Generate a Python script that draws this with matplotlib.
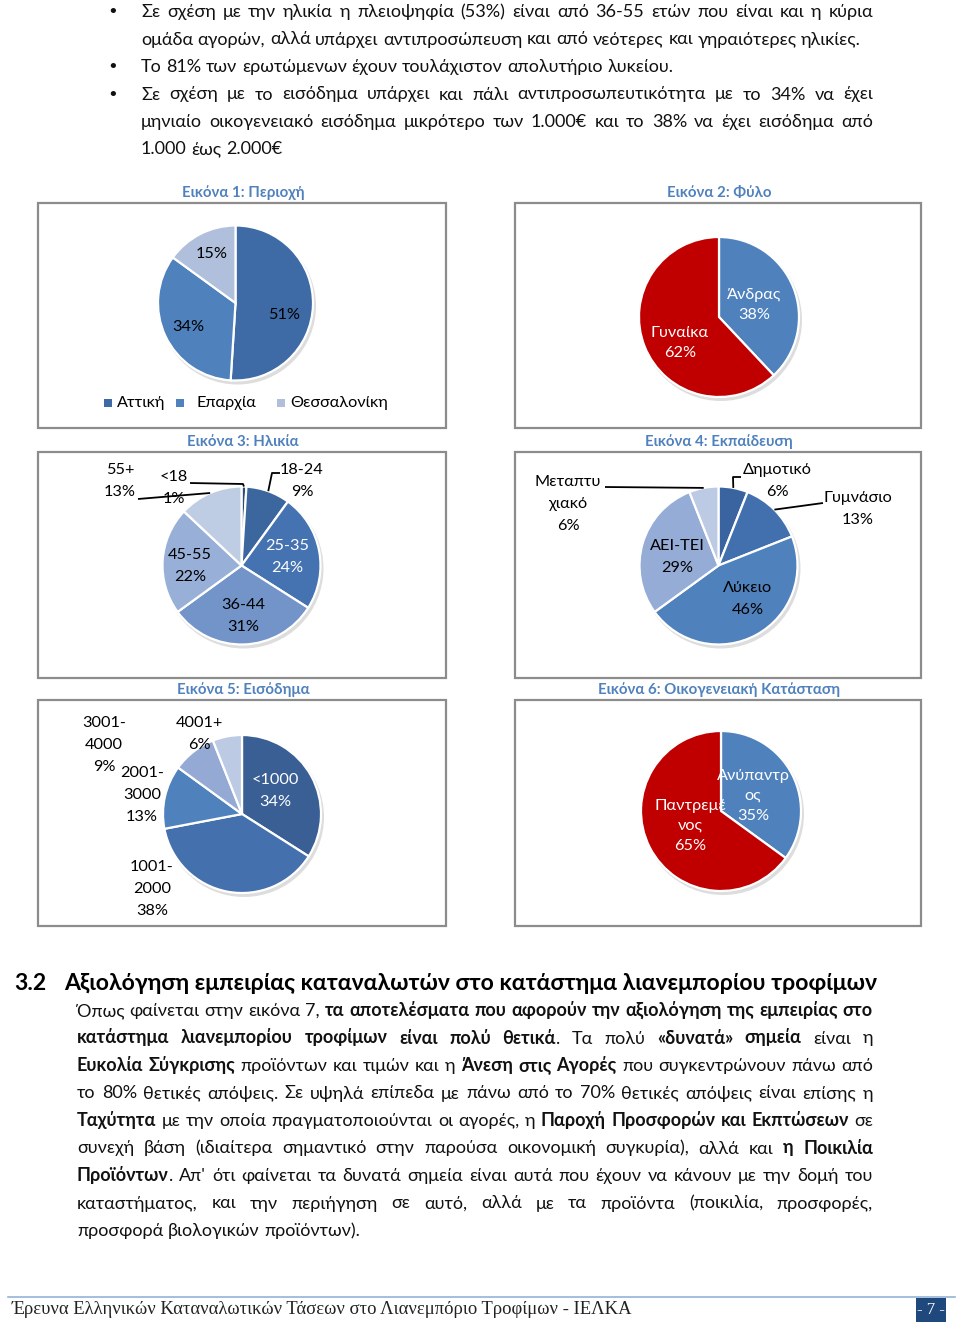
import matplotlib
matplotlib.use("Agg")
import matplotlib.pyplot as plt
from matplotlib.patches import Rectangle, Circle
import numpy as np

W, H = 960, 1324
SANS = ["Lato", "Noto Sans", "DejaVu Sans"]
SERIF = ["Liberation Serif", "DejaVu Serif"]
plt.rcParams["font.family"] = SANS

# ---- chart data ----
region_labels = ["Αττική", "Επαρχία", "Θεσσαλονίκη"]
region_values = [51, 34, 15]
region_colors = ["#3E6BA6", "#4F81BD", "#AFBFDC"]

gender_labels = ["Άνδρας", "Γυναίκα"]
gender_values = [38, 62]
gender_colors = ["#4F81BD", "#C00000"]

age_labels = ["<18", "18-24", "25-35", "36-44", "45-55", "55+"]
age_values = [1, 9, 24, 31, 22, 13]
age_colors = ["#2C4D75", "#3C669E", "#4572B0", "#7294C8", "#98B0D8", "#BFCDE4"]

edu_labels = ["Δημοτικό", "Γυμνάσιο", "Λύκειο", "ΑΕΙ-ΤΕΙ", "Μεταπτυ\nχιακό"]
edu_values = [6, 13, 46, 29, 6]
edu_colors = ["#3A64A0", "#4270AF", "#4F81BD", "#95ACD6", "#BDCAE3"]

income_labels = ["<1000", "1001-\n2000", "2001-\n3000", "3001-\n4000", "4001+"]
income_values = [34, 38, 13, 9, 6]
income_colors = ["#395F95", "#4470AE", "#4F81BD", "#94AAD4", "#BDCAE3"]

marital_labels = ["Ανύπαντρ\nος", "Παντρεμέ\nνος"]
marital_values = [35, 65]
marital_colors = ["#4F81BD", "#C00000"]

chart_titles = ["Εικόνα 1: Περιοχή", "Εικόνα 2: Φύλο", "Εικόνα 3: Ηλικία",
                "Εικόνα 4: Εκπαίδευση", "Εικόνα 5: Εισόδημα",
                "Εικόνα 6: Οικογενειακή Κατάσταση"]

# ---- page text ----
bullet_lines = [
    (17.0, "Σε σχέση με την ηλικία η πλειοψηφία (53%) είναι από 36-55 ετών που είναι και η κύρια", True, True),
    (44.5, "ομάδα αγορών, αλλά υπάρχει αντιπροσώπευση και από νεότερες και γηραιότερες ηλικίες.", False, False),
    (72.0, "Το 81% των ερωτώμενων έχουν τουλάχιστον απολυτήριο λυκείου.", False, True),
    (99.5, "Σε σχέση με το εισόδημα υπάρχει και πάλι αντιπροσωπευτικότητα με το 34% να έχει", True, True),
    (127.0, "μηνιαίο οικογενειακό εισόδημα μικρότερο των 1.000€ και το 38% να έχει εισόδημα από", True, False),
    (154.5, "1.000 έως 2.000€", False, False),
]
heading_num = "3.2"
heading = "Αξιολόγηση εμπειρίας καταναλωτών στο κατάστημα λιανεμπορίου τροφίμων"
para_lines = [
    "Όπως φαίνεται στην εικόνα 7, **τα αποτελέσματα που αφορούν την αξιολόγηση της εμπειρίας στο**",
    "**κατάστημα λιανεμπορίου τροφίμων είναι πολύ θετικά**. Τα πολύ **«δυνατά» σημεία** είναι η",
    "**Ευκολία Σύγκρισης** προϊόντων και τιμών και η **Άνεση στις Αγορές** που συγκεντρώνουν πάνω από",
    "το 80% θετικές απόψεις. Σε υψηλά επίπεδα με πάνω από το 70% θετικές απόψεις είναι επίσης η",
    "**Ταχύτητα** με την οποία πραγματοποιούνται οι αγορές, η **Παροχή Προσφορών και Εκπτώσεων** σε",
    "συνεχή βάση (ιδιαίτερα σημαντικό στην παρούσα οικονομική συγκυρία), αλλά και **η Ποικιλία**",
    "**Προϊόντων**. Απ' ότι φαίνεται τα δυνατά σημεία είναι αυτά που έχουν να κάνουν με την δομή του",
    "καταστήματος, και την περιήγηση σε αυτό, αλλά με τα προϊόντα (ποικιλία, προσφορές,",
    "προσφορά βιολογικών προϊόντων).",
]
footer = "Έρευνα Ελληνικών Καταναλωτικών Τάσεων στο Λιανεμπόριο Τροφίμων - ΙΕΛΚΑ"
page_no = "- 7 -"

fig = plt.figure(figsize=(W / 100, H / 100), dpi=100)
ax = fig.add_axes([0, 0, 1, 1])
renderer = fig.canvas.get_renderer()


def Y(py):
    return H - py


def text_w(s, size, weight="normal", family=None):
    t = ax.text(0, 0, s, fontsize=size, fontweight=weight,
                family=family if family else SANS)
    w = t.get_window_extent(renderer).width
    t.remove()
    return w


def parse(line):
    words, bold = [], False
    for raw in line.split(" "):
        pieces = []
        for i, p in enumerate(raw.split("**")):
            if i > 0:
                bold = not bold
            if p:
                pieces.append((p, bold))
        words.append(pieces)
    return words


def draw_line(line, x0, x1, base, size, justify):
    words = parse(line)
    widths = [[text_w(p, size, "bold" if b else "normal") for p, b in w] for w in words]
    total = sum(sum(ws) for ws in widths)
    space = text_w("a a", size) - text_w("aa", size)
    gap = (x1 - x0 - total) / (len(words) - 1) if justify and len(words) > 1 else space
    x = x0
    for w, ws in zip(words, widths):
        for (p, b), pw in zip(w, ws):
            ax.text(x, Y(base), p, fontsize=size, fontweight="bold" if b else "normal",
                    ha="left", va="baseline", color="#111111")
            x += pw
        x += gap


# body font size fitted on an unjustified line
body_size = 12 * 725 / text_w(bullet_lines[1][1], 12)

for base, line, just, bullet in bullet_lines:
    if bullet:
        ax.text(113, Y(base), "•", fontsize=body_size, ha="center", va="baseline",
                family=["DejaVu Sans"], color="#111111")
    draw_line(line, 141, 873, base, body_size, just)

# ---- chart frames and titles ----
boxes = [(38, 203, 446, 428), (515, 203, 921, 428),
         (38, 452, 446, 678), (515, 452, 921, 678),
         (38, 700, 446, 926), (515, 700, 921, 926)]
for (x0, y0, x1, y1), title in zip(boxes, chart_titles):
    ax.add_patch(Rectangle((x0, Y(y1)), x1 - x0, y1 - y0, fill=False,
                           edgecolor="#8C8C8C", linewidth=1.6, zorder=1))
    ax.text((x0 + x1) / 2 + 1, Y(y0 - 6), title, fontsize=10.8, fontweight="bold",
            color="#4F81BD", ha="center", va="baseline")

LBL = 11.7


def draw_pie(values, colors, cx, cy, r):
    ax.add_patch(Circle((cx + 2, Y(cy) - 3), r + 1, color="#cfcfcf", alpha=0.7,
                        lw=0, zorder=1.5))
    wedges, _ = ax.pie(values, colors=colors, startangle=90, counterclock=False,
                       radius=r, center=(cx, Y(cy)),
                       wedgeprops=dict(edgecolor="white", linewidth=1.6))
    for w in wedges:
        w.set_zorder(2)
    return wedges


def label(x, y, s, color="black", ls=1.72):
    ax.text(x, Y(y), s, fontsize=LBL, color=color, ha="center", va="center",
            linespacing=ls, zorder=4)


def leader(wedge, pts):
    cx, cy = wedge.center
    ang = np.deg2rad((wedge.theta1 + wedge.theta2) / 2)
    xs = [p[0] for p in pts] + [cx + wedge.r * np.cos(ang)]
    ys = [Y(p[1]) for p in pts] + [cy + wedge.r * np.sin(ang)]
    ax.plot(xs, ys, color="black", lw=1.3, zorder=3, solid_capstyle="butt")


# Chart 1: region
draw_pie(region_values, region_colors, 235.5, 303, 77.5)
for pos, v in zip([(284, 315), (188, 327), (212, 254)], region_values):
    label(pos[0], pos[1], f"{v}%")
for sx, tx, name, c in zip([104, 176, 277], [117, 197, 290], region_labels, region_colors):
    ax.add_patch(Rectangle((sx, Y(407)), 8, 8, color=c, lw=0))
    ax.text(tx, Y(403), name, fontsize=LBL, ha="left", va="center")

# Chart 2: gender
draw_pie(gender_values, gender_colors, 719, 317, 80)
for pos, name, v in zip([(754, 305), (680, 343)], gender_labels, gender_values):
    label(pos[0], pos[1], f"{name}\n{v}%", color="white", ls=1.55)

# Chart 3: age
age_w = draw_pie(age_values, age_colors, 241.5, 565.5, 79)
age_pos = [(174, 488), (302, 481), (287, 557), (243, 616), (190, 566), (120, 481)]
age_txt = ["black", "black", "white", "black", "black", "black"]
for pos, name, v, c in zip(age_pos, age_labels, age_values, age_txt):
    label(pos[0], pos[1], f"{name}\n{v}%", color=c)
leader(age_w[0], [(190, 483), (243, 484)])
leader(age_w[1], [(280, 473), (272, 473)])
leader(age_w[5], [(138, 499)])

# Chart 4: education
edu_w = draw_pie(edu_values, edu_colors, 718.5, 565.5, 79)
edu_pos = [(777, 481), (858, 509), (748, 599), (677, 557), (568, 504)]
for pos, name, v in zip(edu_pos, edu_labels, edu_values):
    label(pos[0], pos[1], f"{name}\n{v}%")
leader(edu_w[0], [(741, 477), (733, 477)])
leader(edu_w[1], [(823, 503)])
leader(edu_w[4], [(605, 487)])

# Chart 5: income
draw_pie(income_values, income_colors, 242, 814, 79)
inc_pos = [(275, 791), (152, 889), (142, 795), (104, 745), (199, 734)]
inc_txt = ["white", "black", "black", "black", "black"]
for pos, name, v, c in zip(inc_pos, income_labels, income_values, inc_txt):
    label(pos[0], pos[1], f"{name}\n{v}%", color=c)

# Chart 6: marital status
draw_pie(marital_values, marital_colors, 721, 811, 80)
for pos, name, v in zip([(753, 796), (690, 826)], marital_labels, marital_values):
    label(pos[0], pos[1], f"{name}\n{v}%", color="white", ls=1.55)

# ---- section heading and paragraph ----
head_size = 14 * 814 / text_w(heading, 14, "bold")
ax.text(14, Y(990), heading_num, fontsize=head_size, fontweight="bold", ha="left", va="baseline")
ax.text(64, Y(990), heading, fontsize=head_size, fontweight="bold", ha="left", va="baseline")

for i, line in enumerate(para_lines):
    draw_line(line, 77, 873, 1016 + 27.5 * i, body_size, i < len(para_lines) - 1)

# ---- footer ----
ax.plot([8, 955], [Y(1297), Y(1297)], color="#95B3D7", lw=1.2)
foot_size = 13 * 620 / text_w(footer, 13, family=SERIF)
ax.text(12, Y(1314), footer, fontsize=foot_size, family=SERIF, ha="left", va="baseline",
        color="#222222")
ax.add_patch(Rectangle((916, Y(1322)), 30, 24, color="#1F497D", lw=0))
ax.text(931, Y(1310), page_no, fontsize=12, family=SERIF, color="white",
        ha="center", va="center")

ax.set_xlim(0, W)
ax.set_ylim(0, H)
ax.set_aspect("auto")
ax.axis("off")
fig.savefig("out.png", dpi=100, facecolor="white")
